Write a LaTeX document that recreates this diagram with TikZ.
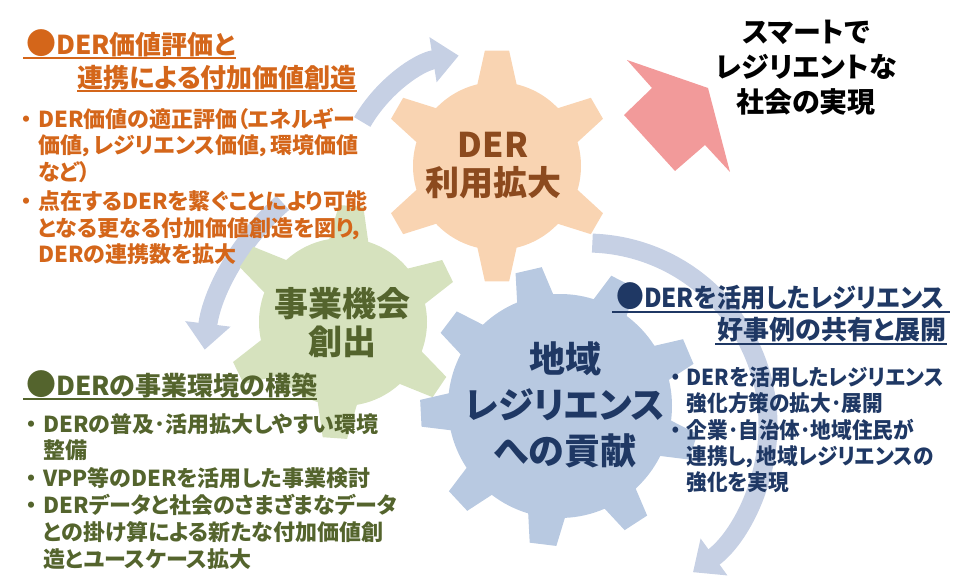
\documentclass[tikz,border=0pt]{standalone}
\usepackage{fontspec}
\setmainfont{Noto Sans CJK JP}[CharacterWidth=AlternateProportional]
\usetikzlibrary{positioning,arrows.meta}

\definecolor{derorange}{HTML}{D4661A}
\definecolor{gearorange}{HTML}{F9D4B2}
\definecolor{gearorangetext}{HTML}{8C4A1E}
\definecolor{geargreen}{HTML}{D6E2BE}
\definecolor{greentext}{HTML}{54642D}
\definecolor{gearblue}{HTML}{B8C9E1}
\definecolor{navytext}{HTML}{1F3864}
\definecolor{cyclearrow}{HTML}{C6D0E4}
\definecolor{goalpink}{HTML}{F29A9A}

\tikzset{%
  pics/gear/.style args={#1/#2/#3/#4/#5/#6}{code={%
    \path[pic actions] ({#2-#6}:#3)
      \foreach \k in {1,...,#1}{
        -- ({#2+(\k-1)*360/#1-#5}:#4) -- ({#2+(\k-1)*360/#1+#5}:#4)
        -- ({#2+(\k-1)*360/#1+#6}:#3)
        arc[start angle={#2+(\k-1)*360/#1+#6}, end angle={#2+\k*360/#1-#6}, radius=#3]
      } -- cycle;
  }},
  gear label/.style={
    align=center,
    inner sep=0pt,
    font=\bfseries\fontsize{34}{38}\selectfont
  },
  box title/.style={
    anchor=base west,
    inner sep=0pt,
    font=\bfseries\fontsize{26}{30}\selectfont
  },
  box body/.style={
    anchor=north west,
    inner sep=0pt,
    font=\bfseries\fontsize{22}{25}\selectfont
  },
}
\newcommand{\bul}{\makebox[24pt][c]{・}}
\newcommand{\headdot}{{\fontsize{30}{30}\selectfont ●}}

\begin{document}
\begin{tikzpicture}[x=1pt,y=1pt]
        \tikzstyle{loopband}=[draw=cyclearrow,line width=19pt,-{Triangle[width=44pt,length=26pt]}]
        \tikzstyle{underline}=[line width=1.3pt]
        \useasboundingbox (0,0) rectangle (960,585);

        % centres of the gears and of the turning arrows
        \coordinate (use) at (497,419);
        \coordinate (biz) at (343,263);
        \coordinate (local) at (560,179);
        \coordinate (loopa) at (480,395);
        \coordinate (loopb) at (435,207);
        \coordinate (loopc) at (586,160);

        \draw[loopband] ([shift={(150:136)}]loopa) arc[start angle=150,end angle=99,radius=136];
        \draw[loopband] ([shift={(131:232)}]loopb) arc[start angle=131,end angle=173,radius=232];
        \draw[loopband] ([shift={(88:182)}]loopc) arc[start angle=88,end angle=-54,radius=182];

        \pic[fill=geargreen] at (biz) {gear=6/26/84/117/6/13.5};
        \pic[fill=gearorange] at (use) {gear=6/90/84/116/6/13.5};
        \pic[fill=gearblue] at (local) {gear=9/23/112/140/5.5/9.5};

        \fill[goalpink] (627,525) -- (708,497) -- (730,413) -- (705,440)
          -- (675,414) -- (624,470) -- (652,497) -- cycle;

        \node[gear label,text=gearorangetext] (uselabel) at (493,419) {DER\\利用拡大};
        \node[gear label,text=greentext] (bizlabel) at (342,262) {事業機会\\創出};
        \node[gear label,text=navytext,font=\bfseries\fontsize{36}{46}\selectfont] (locallabel) at (565,180) {地域\\レジリエンス\\への貢献};

        \node[align=center,font=\bfseries\fontsize{28}{35}\selectfont] (goal) at (806,517) {スマートで\\レジリエントな\\社会の実現};

        % value of DER
        \node[box title,text=derorange] (valttl1) at (26,530) {\headdot DER価値評価と};
        \node[box title,text=derorange] (valttl2) at (77,497) {連携による付加価値創造};
        \draw[underline,derorange] ([shift={(-3,-3)}]valttl1.base west) -- ([yshift=-3]valttl1.base east);
        \draw[underline,derorange] ([yshift=-3]valttl2.base west) -- ([yshift=-3]valttl2.base east);
        \node[box body,text=derorange] (valbody) at (14,477) {\begin{tabular}{@{}l@{}l@{}}
          \bul&DER価値の適正評価（エネルギー\\
          &価値，レジリエンス価値，環境価値\\
          &など）\\[3pt]
          \bul&点在するDERを繋ぐことにより可能\\
          &となる更なる付加価値創造を図り，\\
          &DERの連携数を拡大
        \end{tabular}};

        % business environment
        \node[box title,text=greentext] (bizttl) at (26,189) {\headdot DERの事業環境の構築};
        \draw[underline,greentext] ([shift={(-3,-3)}]bizttl.base west) -- ([yshift=-3]bizttl.base east);
        \node[box body,text=greentext,font=\bfseries\fontsize{22}{26.8}\selectfont] (bizbody) at (19,172) {\begin{tabular}{@{}l@{}l@{}}
          \bul&DERの普及･活用拡大しやすい環境\\
          &整備\\
          \bul&VPP等のDERを活用した事業検討\\
          \bul&DERデータと社会のさまざまなデータ\\
          &との掛け算による新たな付加価値創\\
          &造とユースケース拡大
        \end{tabular}};

        % resilience cases
        \node[box title,text=navytext] (casettl1) at (616,277) {\scalebox{0.93}[1]{\headdot DERを活用したレジリエンス}};
        \node[box title,anchor=base east,text=navytext] (casettl2) at (947,245) {好事例の共有と展開};
        \draw[underline,navytext] ([shift={(-4,-4)}]casettl1.base west) -- ([shift={(5,-4)}]casettl1.base east);
        \draw[underline,navytext] ([shift={(-2,-4)}]casettl2.base west) -- ([yshift=-4]casettl2.base east);
        \node[box body,text=navytext,font=\bfseries\fontsize{22}{24.5}\selectfont] (casebody) at (664,219) {\scalebox{0.94}[1]{\begin{tabular}{@{}l@{}l@{}}
          \bul&DERを活用したレジリエンス\\
          &強化方策の拡大･展開\\
          \bul&企業･自治体･地域住民が\\
          &連携し，地域レジリエンスの\\
          &強化を実現
        \end{tabular}}};
\end{tikzpicture}
\end{document}
